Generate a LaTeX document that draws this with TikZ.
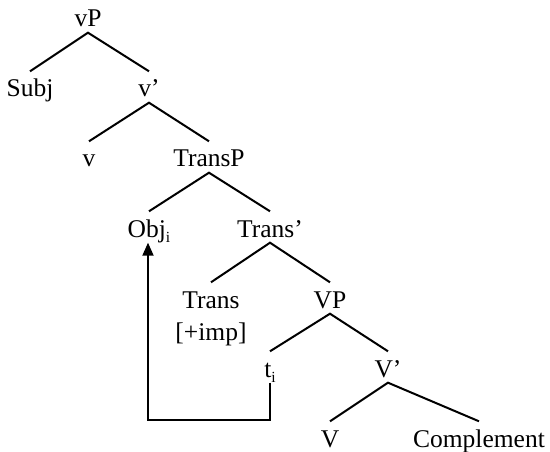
\documentclass[tikz,border=0pt]{standalone}
\usepackage{fontspec}
\setmainfont{Liberation Serif}
\usetikzlibrary{arrows.meta}
\newcommand{\subi}{\raisebox{-0.22em}{\fontsize{15.5}{15.5}\selectfont i}}
\begin{document}
\begin{tikzpicture}[x=1pt,y=-1pt,
  lbl/.style={inner sep=0pt,anchor=base,text height=25.5pt,text depth=5.5pt,font=\fontsize{25.5}{28}\selectfont},
  lbltwo/.style={inner sep=0pt,anchor=base,align=center,font=\fontsize{25.5}{32}\selectfont},
  branch/.style={line width=2pt},
  move/.style={line width=2pt,-{Triangle[width=11pt,length=13pt]}}]
\useasboundingbox (0,0) rectangle (550,452);
\node[lbl] (vP) at (88,27) {vP};
\node[lbl] (Subj) at (30,97) {Subj};
\node[lbl] (v1) at (149,97) {v’};
\node[lbl] (v) at (89,167) {v};
\node[lbl] (TransP) at (209,167) {TransP};
\node[lbl] (Obj) at (149,237) {Obj\subi};
\node[lbl] (Trans1) at (270,237) {Trans’};
\node[lbltwo] (Trans) at (211,340) {\rule{0pt}{25.5pt}Trans\\{}[+imp]};
\node[lbl] (VP) at (330,308) {VP};
\node[lbl] (ti) at (270,377) {t\subi};
\node[lbl] (V1) at (388,377) {V’};
\node[lbl] (V) at (330,447) {V};
\node[lbl] (Comp) at (479,447) {Complement};
\draw[branch] (Subj.north) -- (vP.south) -- (v1.north);
\draw[branch] (v.north) -- (v1.south) -- (TransP.north);
\draw[branch] (Obj.north) -- (TransP.south) -- (Trans1.north);
\draw[branch] (Trans.north) -- (Trans1.south) -- (VP.north);
\draw[branch] (ti.north) -- (VP.south) -- (V1.north);
\draw[branch] (V.north) -- (V1.south) -- (Comp.north);
\coordinate (bend) at (148,420);
\draw[move] (ti.south) |- (bend) -- (bend |- Obj.south);
\end{tikzpicture}
\end{document}
